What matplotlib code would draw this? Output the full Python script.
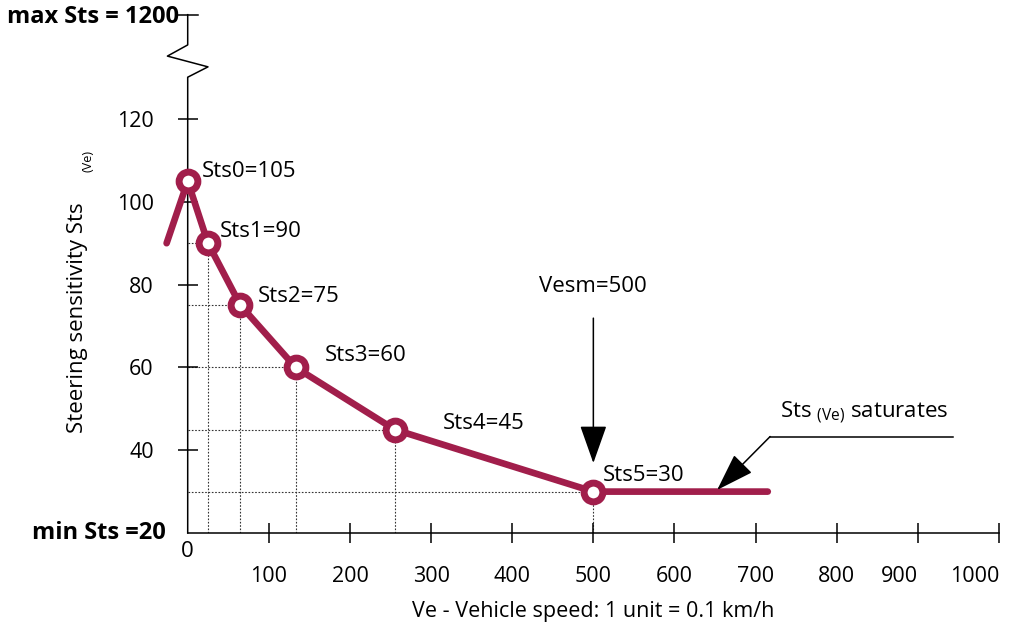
"""Steering sensitivity vs vehicle speed chart."""
import matplotlib
matplotlib.use('Agg')
import matplotlib.pyplot as plt

plt.rcParams['font.family'] = ['Open Sans', 'DejaVu Sans']
plt.rcParams['mathtext.fontset'] = 'custom'
plt.rcParams['mathtext.rm'] = 'Open Sans'

# Data
speed = [0, 25, 65, 133, 255, 500]
sts = [105, 90, 75, 60, 45, 30]
point_labels = ['Sts0=105', 'Sts1=90', 'Sts2=75', 'Sts3=60', 'Sts4=45', 'Sts5=30']

# full curve incl. lead-in stub and saturated tail
curve_x = [-26, 0, 25, 65, 133, 255, 500, 715]
curve_y = [90, 105, 90, 75, 60, 45, 30, 30]

x_ticks = [100, 200, 300, 400, 500, 600, 700, 800, 900, 1000]
y_ticks = [40, 60, 80, 100, 120]

vesm = 500
sts_min = 20
y_top = 145.2  # where the "1200" tick sits above the axis break

RED = '#A11E4B'
INK = 'black'

fig = plt.figure(figsize=(10.09, 6.22), dpi=100, facecolor='white')
W, H = 1009, 622
ax = fig.add_axes([187.7 / W, (H - 533) / H, 811.3 / W, (533 - 14.7) / H])
ax.set_xlim(0, 1000)
ax.set_ylim(sts_min, y_top)

for side in ['top', 'right', 'left']:
    ax.spines[side].set_visible(False)
ax.spines['bottom'].set_linewidth(1.1)

ax.set_xticks(x_ticks)
ax.set_xticklabels([str(v) for v in x_ticks])
ax.set_yticks(y_ticks)
ax.set_yticklabels([str(v) for v in y_ticks])
ax.tick_params(direction='inout', length=15, width=1.1, labelsize=15.5, pad=16)
ax.tick_params(axis='y', pad=17)
labels = ax.get_xticklabels()
labels[-1].set_ha('right')
labels[-2].set_ha('right')

# y axis with break
ax.plot([0, 0, 25, -25, 0, 0], [sts_min, 130.1, 132.6, 135.2, 137.9, y_top],
        color=INK, lw=1.1, clip_on=False)
ax.plot([-12, 12.5], [y_top, y_top], color=INK, lw=1.1, clip_on=False)

ax.annotate('max Sts = 1200', xy=(0, y_top), xytext=(-6, -2), textcoords='offset points',
            ha='right', va='center', fontsize=17, fontweight='bold', annotation_clip=False)
ax.annotate('min Sts =20', xy=(0, sts_min), xytext=(-15.5, 0), textcoords='offset points',
            ha='right', va='center', fontsize=17, fontweight='bold', annotation_clip=False)
ax.annotate('0', xy=(0, sts_min), xytext=(0, -6), textcoords='offset points',
            ha='center', va='top', fontsize=16, annotation_clip=False)

# dotted guides
for x, y in zip(speed[1:], sts[1:]):
    ax.plot([0, x], [y, y], color='#333333', lw=0.8, dashes=(1.5, 1.5), zorder=1)
    ax.plot([x, x], [sts_min, y], color='#333333', lw=0.8, dashes=(1.5, 1.5), zorder=1)

# curve and points
ax.plot(curve_x, curve_y, color=RED, lw=4.8, solid_capstyle='round',
        solid_joinstyle='round', clip_on=False, zorder=3)
ax.plot(speed, sts, 'o', ms=13.5, mfc='white', mec=RED, mew=5, clip_on=False, zorder=4)

label_pos = [(17, 107.3), (39, 92.8), (86, 77.1), (169, 62.8), (315, 46.5), (512, 34)]
for (lx, ly), txt in zip(label_pos, point_labels):
    ax.text(lx, ly, txt, ha='left', va='center', fontsize=16)

# Vesm arrow
ax.text(vesm, 79.5, 'Vesm=500', ha='center', va='center', fontsize=16)
ax.annotate('', xy=(vesm, 36.9), xytext=(vesm, 71.9),
            arrowprops=dict(arrowstyle='-|>,head_length=24,head_width=8.5',
                            mutation_scale=1, color=INK, lw=1.1, shrinkA=0, shrinkB=0))

# saturation callout
ax.annotate('', xy=(652.6, 30.4), xytext=(717.9, 43.3),
            arrowprops=dict(arrowstyle='-|>,head_length=24,head_width=8',
                            mutation_scale=1, color=INK, lw=1.1, shrinkA=0, shrinkB=0))
ax.plot([717.9, 943.5], [43.3, 43.3], color=INK, lw=1.1)
ax.text(730, 47.8, r'Sts $_{\mathrm{(Ve)}}$ saturates', ha='left', va='baseline', fontsize=16)

# axis titles
ax.set_xlabel('Ve - Vehicle speed: 1 unit = 0.1 km/h', fontsize=15.5, labelpad=10)
fig.text(78 / W, 1 - 317.5 / H, 'Steering sensitivity Sts', rotation=90,
         ha='center', va='center', fontsize=16)
fig.text(88 / W, 1 - 161 / H, '(Ve)', rotation=90, ha='center', va='center', fontsize=9)

fig.savefig('out.png', dpi=100, facecolor='white')
plt.close(fig)
